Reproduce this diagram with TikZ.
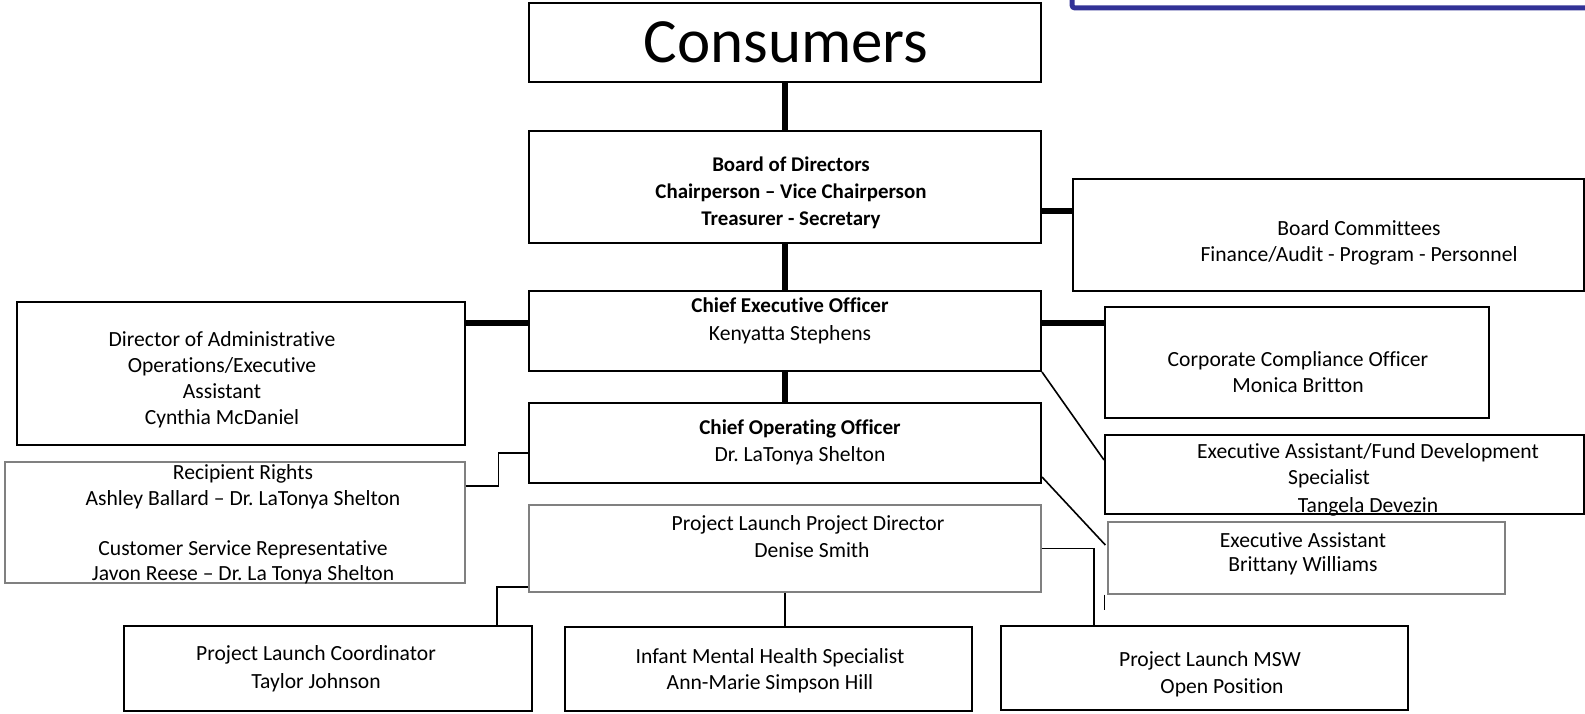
\documentclass[tikz,border=0pt]{standalone}
\usepackage{fontspec}
\setmainfont{Carlito}[Ligatures={TeX,NoCommon}]
\frenchspacing
\definecolor{frameblue}{RGB}{50,50,150}

\begin{document}
\begin{tikzpicture}[x=1pt,y=-1pt,
  box/.style={draw,line width=2pt,inner sep=0pt,minimum width=512pt,minimum height=80pt},
  softbox/.style={box,draw=black!50,line width=1.3pt},
  txt/.style={align=center,inner sep=0pt,font=\fontsize{21.6}{26}\selectfont},
  heavy/.style={line width=6pt},
  link/.style={line width=1.6pt}]
\useasboundingbox (0,0) rectangle (1585,714);
% frame of the slide, cut by the page
\draw[frameblue,line width=5pt,rounded corners=3pt] (1072,-20) -- (1072,8) -- (1620,8);

% top of the chart
\node[box,minimum height=79pt] (cons) at (785,42.5) {};
\node[txt,font=\fontsize{63}{70}\selectfont] (cons-t) at (786,42) {Consumers};
\node[box,minimum height=112pt] (board) at (785,187) {};
\node[txt,font=\fontsize{20.9}{27}\selectfont\bfseries] (board-t) at (791,193) {Board of Directors\\Chairperson – Vice Chairperson\\Treasurer - Secretary};
\node[box,minimum width=511pt,minimum height=112pt] (cmte) at (1328.5,235) {};
\node[txt] (cmte-t) at (1359,242.5) {Board Committees\\Finance/Audit - Program - Personnel};

% executive level
\node[box] (ceo) at (785,331) {};
\node[txt,font=\fontsize{21.6}{28}\selectfont] (ceo-t) at (790,321) {\fontsize{21.1}{28}\selectfont\textbf{Chief Executive Officer}\\Kenyatta Stephens};
\node[box,minimum width=448pt,minimum height=143pt] (admin) at (241,373.5) {};
\node[txt] (admin-t) at (222,379.5) {Director of Administrative\\Operations/Executive\\Assistant\\Cynthia McDaniel};
\node[box,minimum width=384pt,minimum height=111pt] (comply) at (1297,362.5) {};
\node[txt] (comply-t) at (1298,372) {Corporate Compliance Officer\\Monica Britton};
\node[box] (coo) at (785,443) {};
\node[txt,font=\fontsize{21.6}{27}\selectfont] (coo-t) at (800,442) {\fontsize{21.1}{27}\selectfont\textbf{Chief Operating Officer}\\Dr. LaTonya Shelton};
\node[softbox,minimum width=460pt,minimum height=121pt] (rights) at (235,522.5) {};
\node[txt,font=\fontsize{21.6}{25.3}\selectfont] (rights-t) at (243,524.5) {Recipient Rights\\Ashley Ballard – Dr. LaTonya Shelton\\[25pt]Customer Service Representative\\Javon Reese – Dr. La Tonya Shelton};
\node[box,minimum width=479pt,minimum height=79pt] (fund) at (1344.5,474.5) {};
\node[txt,font=\fontsize{21.6}{26.5}\selectfont] (fund-t) at (1368,479.5) {Executive Assistant/Fund Development\\\hspace*{-78pt}Specialist\\[1pt]Tangela Devezin};
\node[softbox,minimum width=397pt,minimum height=72pt] (ea) at (1306.5,558) {};
\node[txt,font=\fontsize{21.6}{24}\selectfont] (ea-t) at (1303,554) {Executive Assistant\\Brittany Williams};

% project launch
\node[softbox,minimum height=87pt] (pd) at (785,548.5) {};
\node[txt,font=\fontsize{21.6}{27}\selectfont] (pd-t) at (808,537) {Project Launch Project Director\\\hspace*{8pt}Denise Smith};
\node[box,minimum width=408pt,minimum height=85pt] (coord) at (328,668.5) {};
\node[txt,font=\fontsize{21.6}{28}\selectfont] (coord-t) at (316,669) {Project Launch Coordinator\\Taylor Johnson};
\node[box,minimum width=407pt,minimum height=84pt] (imh) at (768.5,669) {};
\node[txt] (imh-t) at (770,671) {Infant Mental Health Specialist\\Ann-Marie Simpson Hill};
\node[box,minimum width=407pt,minimum height=84pt] (msw) at (1204.5,668) {};
\node[txt,font=\fontsize{21.6}{27}\selectfont] (msw-t) at (1210,674.5) {Project Launch MSW\\\hspace*{24pt}Open Position};

% lines
\draw[heavy] (cons) -- (board);
\draw[heavy] (board) -- (ceo);
\draw[heavy] (ceo) -- (coo);
\draw[heavy] ([yshift=-24pt]board.east) -- ([yshift=24pt]cmte.west);
\draw[heavy] ([yshift=8pt]ceo.west) -- ([yshift=8pt]ceo.west -| admin.east);
\draw[heavy] ([yshift=8pt]ceo.east) -- ([yshift=8pt]ceo.east -| comply.west);
\draw[link] (ceo.south east) -- ([yshift=14.5pt]fund.west);
\draw[link] ([yshift=7pt]coo.south east) -- ([xshift=-2pt,yshift=13pt]ea.west);
\draw[link] ([yshift=36.5pt]rights.east) -- ++(33,0) |- ([yshift=-10pt]coo.west);
\draw[link] ([yshift=-38.5pt]pd.west) -| ([xshift=169pt]coord.north);
\draw[link] (pd.south) -- (pd.south |- imh.north);
\draw[link] (pd.east) -| ([xshift=-110.5pt]msw.north);
\draw[link] ([xshift=-3pt]ea.south west) -- ++(0,15);
\end{tikzpicture}
\end{document}
